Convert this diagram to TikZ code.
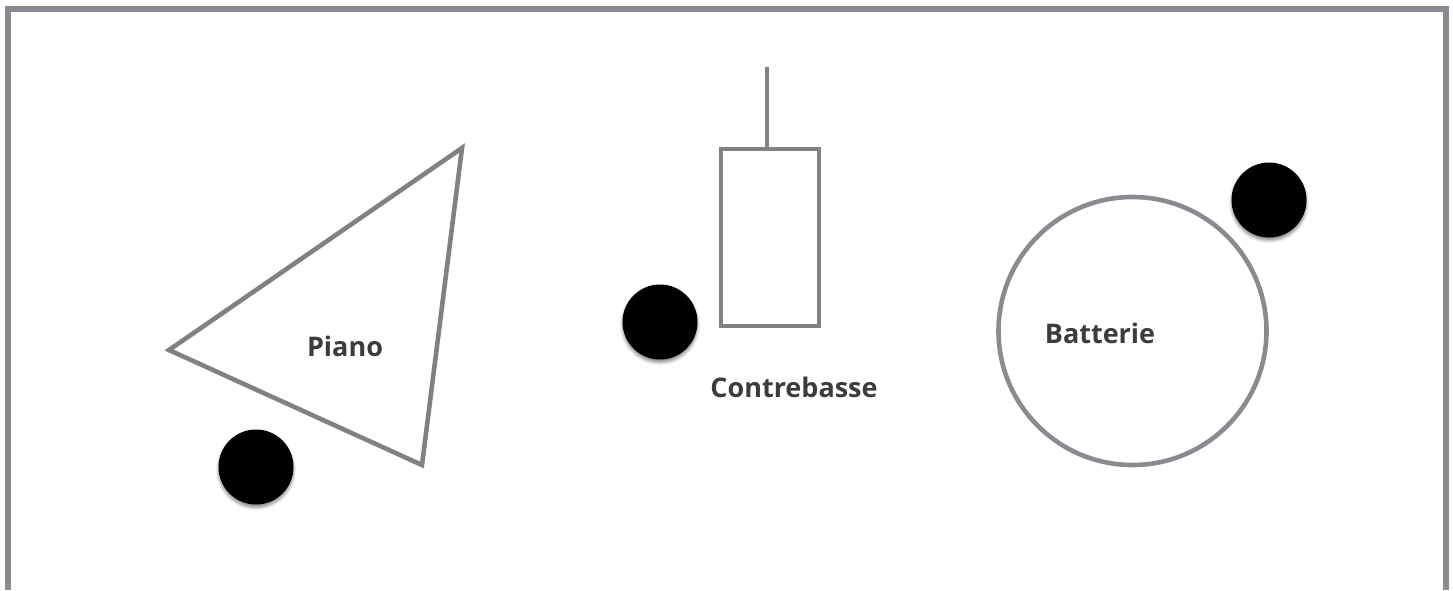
\documentclass[tikz,border=0pt]{standalone}
\usepackage{fontspec}
\setmainfont{Open Sans}
\usetikzlibrary{shadows.blur}
\definecolor{framegray}{HTML}{888B8F}
\definecolor{shapegray}{HTML}{808183}
\definecolor{labelgray}{HTML}{3C3C3C}
\tikzset{
  outline/.style={draw=shapegray, line width=4.6pt, line join=miter},
  musician/.style={circle, fill=black, minimum size=75pt, inner sep=0pt,
    blur shadow={shadow xshift=0pt, shadow yshift=-3pt, shadow blur radius=3pt, shadow opacity=45}},
  label/.style={text=labelgray, font=\fontsize{27}{32}\selectfont\bfseries, inner sep=0pt}
}
\begin{document}
\begin{tikzpicture}[x=1pt, y=-1pt]
\useasboundingbox (0,0) rectangle (1453,590);
% frame (open at bottom)
\draw[draw=framegray, line width=6pt] (8,590) -- (8,8.5) -- (1445.5,8.5) -- (1445.5,590);
% piano
\draw[outline] (462,148) -- (169,350) -- (422,465) -- cycle;
\node[label] (piano) at (345,346) {Piano};
\node[musician] (pianist) at (256,467) {};
% contrebasse
\draw[outline] (721,149) rectangle (819,326);
\coordinate (neckbase) at (767,149);
\coordinate (necktop) at (767,67);
\draw[outline] (neckbase) -- (necktop);
\node[label] (bass) at (794,387) {Contrebasse};
\node[musician] (bassist) at (660,322) {};
% batterie
\draw[draw=framegray, line width=4.6pt] (1132.5,331) circle (134);
\node[label] (drums) at (1100,333) {Batterie};
\node[musician] (drummer) at (1269,200) {};
\end{tikzpicture}
\end{document}
